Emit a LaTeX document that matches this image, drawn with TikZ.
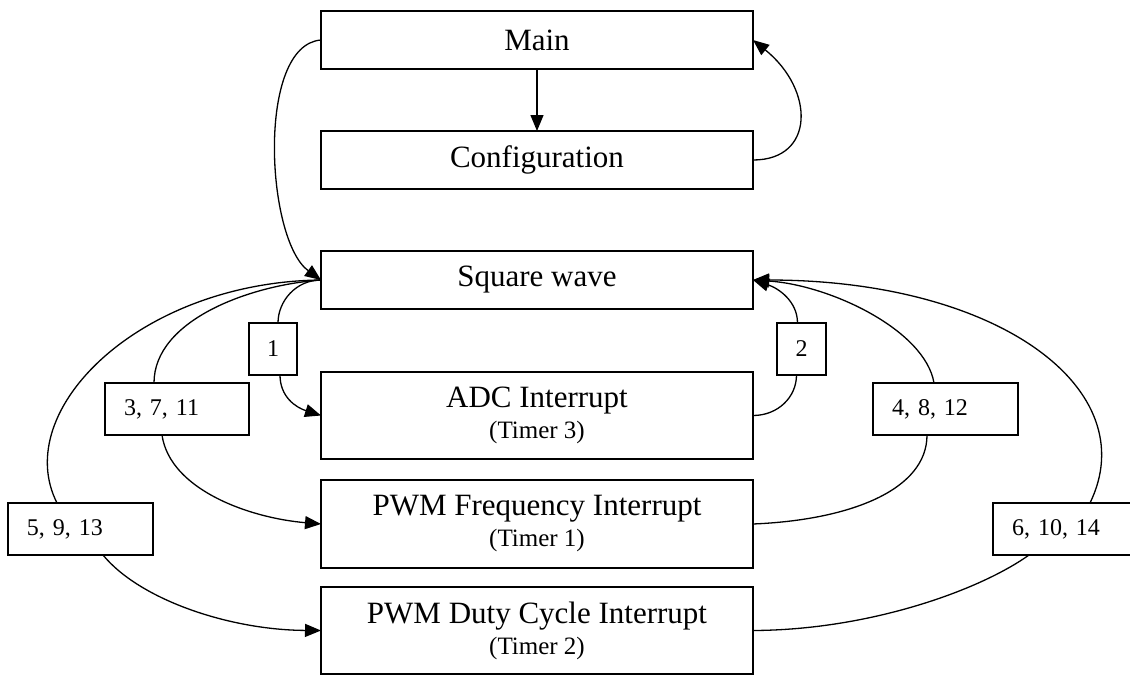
\documentclass[tikz,border=0pt]{standalone}
\usepackage{fontspec}
\setmainfont{Liberation Serif}
\usetikzlibrary{arrows.meta}
\newcommand\timerfont{\fontsize{25}{27}\selectfont}
\begin{document}
\begin{tikzpicture}[x=1pt,y=-1pt,
  every node/.style={inner sep=0pt, outer sep=0pt},
  box/.style={draw, line width=1.3pt, minimum width=432pt, align=center,
    font=\fontsize{31}{34}\selectfont},
  tag/.style={draw, line width=1.3pt, minimum height=52pt,
    font=\fontsize{24}{26}\selectfont},
  widetag/.style={tag, text width=107pt, inner xsep=19pt, align=left},
  conn/.style={line width=1.3pt},
  arr/.style={conn, -{Triangle[length=16pt,width=13pt]}}
]
\clip (0,0) rectangle (1130,675);
\fill[white] (0,0) rectangle (1130,675);

% main boxes
\node[box, minimum height=58pt] (main)   at (537,40)  {Main};
\node[box, minimum height=58pt] (config) at (537,160) {Configuration};
\node[box, minimum height=58pt] (sw)     at (537,280) {Square wave};
\node[box, minimum height=87pt] (adc)    at (537,415.5) {ADC Interrupt\\[-3pt]{\timerfont (Timer 3)}};
\node[box, minimum height=88pt] (pwmf)   at (537,524) {PWM Frequency Interrupt\\[-3pt]{\timerfont (Timer 1)}};
\node[box, minimum height=87pt] (pwmd)   at (537,630.5) {PWM Duty Cycle Interrupt\\[-3pt]{\timerfont (Timer 2)}};

% label boxes
\node[tag, minimum width=48pt] (l1) at (273,349) {1};
\node[tag, minimum width=49pt] (l2) at (801.5,349) {2};
\node[widetag, text width=106pt] (l3) at (177,409) {3, 7, 11};
\node[widetag] (l4) at (945.5,409) {4, 8, 12};
\node[widetag] (l5) at (80.5,529) {5, 9, 13};
\node[widetag] (l6) at (1065.5,529) {6, 10, 14};

% connectors
\draw[arr] (main.south) -- (config.north);
\draw[arr] (config.east) .. controls +(62,0) and +(62,50) .. (main.east);
\draw[arr] (main.west) .. controls +(-65,5) and +(-55,-40) .. (sw.west);

\draw[conn] (sw.west) .. controls +(-25,0) and +(0,-22) .. ([xshift=5pt]l1.north);
\draw[arr] ([xshift=7pt]l1.south) .. controls +(0,22) and +(-25,-8) .. (adc.west);

\draw[conn] (adc.east) .. controls +(25,0) and +(0,22) .. ([xshift=-5pt]l2.south);
\draw[arr] ([xshift=-4pt]l2.north) .. controls +(0,-22) and +(25,8) .. (sw.east);

\draw[conn] (sw.west) .. controls (250,285) and (154,320) .. ([xshift=-23pt]l3.north);
\draw[arr] ([xshift=-15pt]l3.south) .. controls (170,490) and (250,518) .. (pwmf.west);

\draw[conn] (sw.west) .. controls (140,282) and (10,410) .. ([xshift=-23.5pt]l5.north);
\draw[arr] ([xshift=22.5pt]l5.south) .. controls (140,600) and (230,630) .. (pwmd.west);

\draw[conn] (pwmf.east) .. controls (850,520) and (927,490) .. ([xshift=-18.5pt]l4.south);
\draw[arr] ([xshift=-11.5pt]l4.north) .. controls (925,330) and (830,285) .. (sw.east);

\draw[conn] (pwmd.east) .. controls (870,630) and (980,590) .. ([xshift=-36.5pt]l6.south);
\draw[arr] ([xshift=24.5pt]l6.north) .. controls (1145,390) and (1000,280) .. (sw.east);
\end{tikzpicture}
\end{document}
